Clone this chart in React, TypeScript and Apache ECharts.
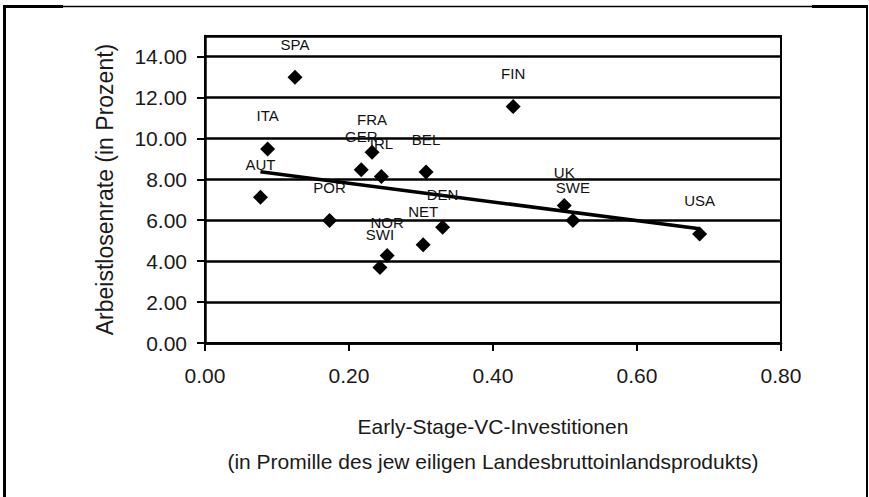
import React, { useEffect, useRef } from "react";
import * as echarts from "echarts";

const countries = ["SPA", "ITA", "AUT", "POR", "GER", "FRA", "IRL", "NOR", "SWI", "FIN", "BEL", "DEN", "NET", "UK", "SWE", "USA"];
const vcInvest = [0.125, 0.087, 0.077, 0.173, 0.217, 0.232, 0.245, 0.253, 0.243, 0.428, 0.307, 0.330, 0.303, 0.499, 0.511, 0.687];
const unemployment = [12.98, 9.48, 7.12, 5.98, 8.46, 9.32, 8.13, 4.28, 3.69, 11.55, 8.35, 5.66, 4.80, 6.72, 5.98, 5.33];
const trendX = [0.077, 0.687];
const trendY = [8.37, 5.58];
const yTicks = [0, 2, 4, 6, 8, 10, 12, 14];
const xTicks = [0, 0.2, 0.4, 0.6, 0.8];

const FONT = '"Liberation Sans", Arial, sans-serif';

export default function App() {
  const ref = useRef<HTMLDivElement>(null);
  useEffect(() => {
    document.body.style.margin = "0";
    const chart = echarts.init(ref.current!, null, { renderer: "svg" });
    const points = countries.map((c, i) => ({ name: c, value: [vcInvest[i], unemployment[i]] }));
    const trend = trendX.map((x, i) => [x, trendY[i]]);
    chart.setOption({
      animation: false,
      backgroundColor: "#ffffff",
      textStyle: { fontFamily: FONT },
      grid: { left: 205, right: 88, top: 36, bottom: 154, show: true, borderColor: "#000", borderWidth: 2, backgroundColor: "transparent" },
      xAxis: {
        type: "value",
        min: xTicks[0],
        max: xTicks[xTicks.length - 1],
        interval: 0.2,
        axisLine: { show: true, lineStyle: { color: "#000", width: 2.5 } },
        axisTick: { show: true, length: 8, lineStyle: { color: "#000", width: 2 } },
        splitLine: { show: false },
        axisLabel: { fontSize: 21, color: "#1a1a1a", fontFamily: FONT, margin: 22, formatter: (v: number) => v.toFixed(2) },
        name: "Early-Stage-VC-Investitionen\n(in Promille des jew eiligen Landesbruttoinlandsprodukts)",
        nameLocation: "middle",
        nameGap: 66,
        nameTextStyle: { fontSize: 21, color: "#1a1a1a", fontFamily: FONT, lineHeight: 35 },
      },
      yAxis: {
        type: "value",
        min: yTicks[0],
        max: 15,
        interval: 2,
        axisLine: { show: true, lineStyle: { color: "#000", width: 2.5 } },
        axisTick: { show: true, length: 8, lineStyle: { color: "#000", width: 2 } },
        splitLine: { show: true, lineStyle: { color: "#000", width: 2.5 } },
        axisLabel: { fontSize: 21, color: "#1a1a1a", fontFamily: FONT, margin: 18, showMaxLabel: false, formatter: (v: number) => (yTicks.includes(v) ? v.toFixed(2) : "") },
        name: "Arbeistlosenrate (in Prozent)",
        nameLocation: "middle",
        nameGap: 89,
        nameTextStyle: { fontSize: 23, color: "#1a1a1a", fontFamily: FONT },
      },
      series: [
        {
          type: "line",
          data: trend,
          showSymbol: false,
          symbol: "none",
          lineStyle: { color: "#000", width: 3.5, opacity: 1 },
          z: 3,
        },
        {
          type: "scatter",
          data: points,
          symbol: "diamond",
          symbolSize: 15,
          itemStyle: { color: "#000", opacity: 1 },
          label: { show: true, position: "top", distance: 18, formatter: "{b}", fontSize: 15, color: "#111", fontFamily: FONT },
          z: 4,
        },
      ],
      graphic: [
        { type: "line", shape: { x1: 4.5, y1: 5, x2: 4.5, y2: 497 }, style: { stroke: "#000", lineWidth: 3 } },
        { type: "line", shape: { x1: 3, y1: 6.5, x2: 868, y2: 6.5 }, style: { stroke: "#000", lineWidth: 1.5 } },
        { type: "line", shape: { x1: 3, y1: 6.5, x2: 63, y2: 6.5 }, style: { stroke: "#000", lineWidth: 3 } },
        { type: "line", shape: { x1: 812, y1: 6.5, x2: 868, y2: 6.5 }, style: { stroke: "#000", lineWidth: 3 } },
        { type: "line", shape: { x1: 867, y1: 5, x2: 867, y2: 497 }, style: { stroke: "#000", lineWidth: 2 } },
      ],
    });
    return () => chart.dispose();
  }, []);
  return <div ref={ref} style={{ position: "fixed", left: 0, top: 0, width: 869, height: 497 }} />;
}
